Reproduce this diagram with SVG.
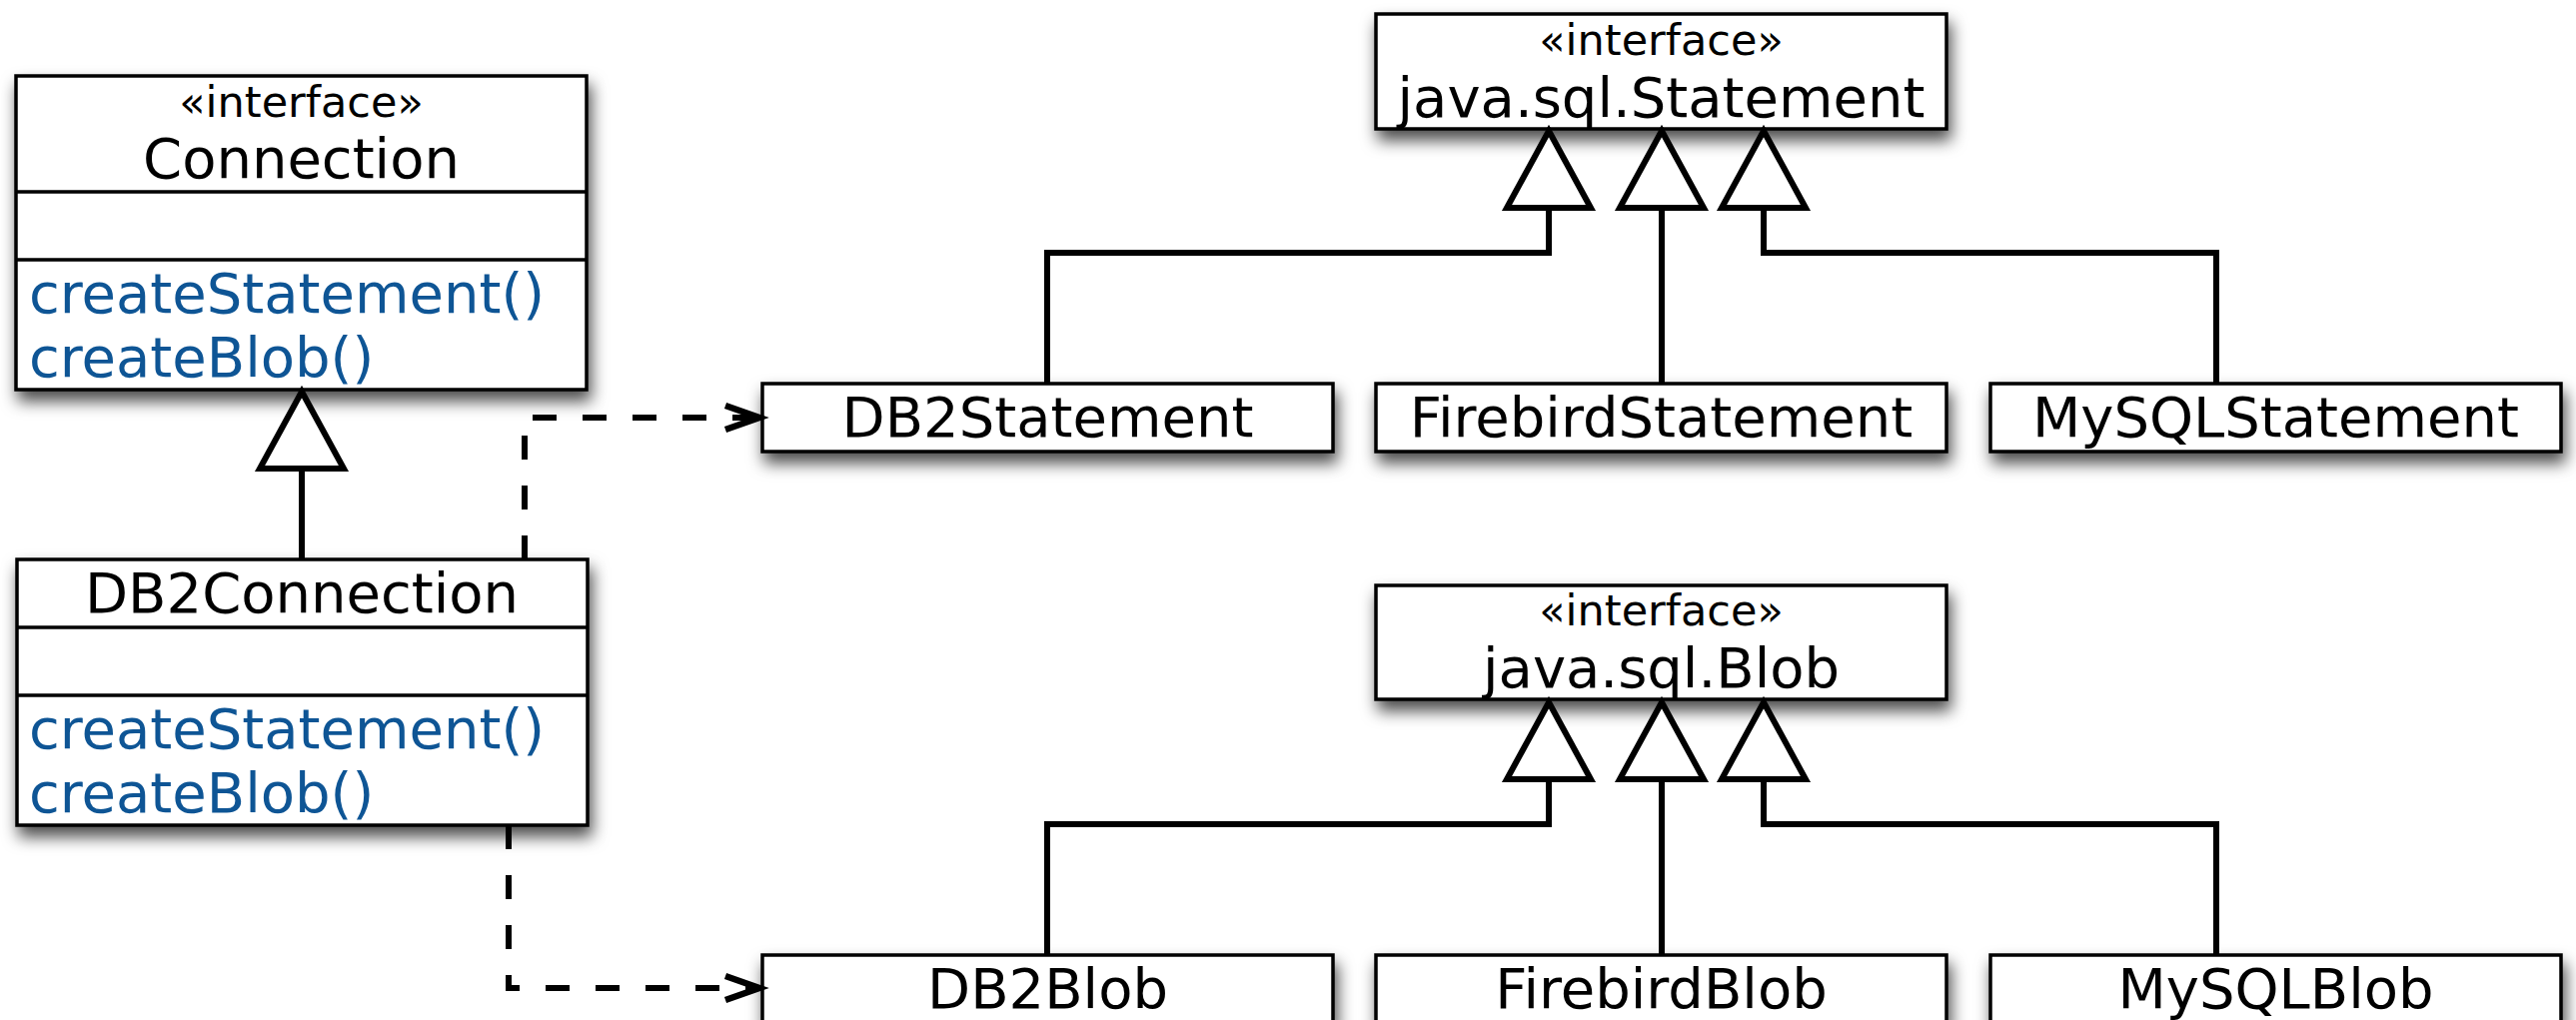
<svg xmlns="http://www.w3.org/2000/svg" width="2578" height="1021" viewBox="0 0 2578 1021">
<style>
.box{fill:#fff;stroke:#000;stroke-width:3.5;filter:url(#sh)}
.div{stroke:#000;stroke-width:3.5}
.t{font-family:"DejaVu Sans","Liberation Sans",sans-serif;fill:#000}
.name{font-size:56px;text-anchor:middle}
.st{font-size:43px;text-anchor:middle}
.m{font-size:56px;fill:#0e5595}
.gen{fill:none;stroke:#000;stroke-width:6;stroke-linejoin:miter}
.tri{fill:#fff;stroke:#000;stroke-width:6;stroke-linejoin:miter}
.dep{fill:none;stroke:#000;stroke-width:6;stroke-dasharray:24 26;marker-end:url(#open)}
</style>
<defs>
<filter id="sh" x="-10%" y="-60%" width="125%" height="260%">
<feDropShadow dx="3" dy="10" stdDeviation="8" flood-color="#000" flood-opacity="0.7"/>
</filter>
<marker id="open" markerUnits="userSpaceOnUse" markerWidth="60" markerHeight="40" viewBox="-40 -20 60 40" refX="0" refY="0" orient="auto" overflow="visible">
<path d="M-34 -12 L0 0 L-34 12" fill="none" stroke="#000" stroke-width="6.5" stroke-dasharray="none"/>
</marker>
</defs>
<rect width="2578" height="1021" fill="#fff"/>

<g id="Connection">
<rect class="box" x="16" y="76" width="571" height="314"/>
<line class="div" x1="16" y1="192" x2="587" y2="192"/>
<line class="div" x1="16" y1="260" x2="587" y2="260"/>
<text class="t st" x="301.5" y="117">«interface»</text>
<text class="t name" x="301.5" y="178">Connection</text>
<text class="t m" x="29" y="313">createStatement()</text>
<text class="t m" x="29" y="377">createBlob()</text>
</g>

<g id="DB2Connection">
<rect class="box" x="17" y="560" width="571" height="266"/>
<line class="div" x1="17" y1="628" x2="588" y2="628"/>
<line class="div" x1="17" y1="696" x2="588" y2="696"/>
<text class="t name" x="302" y="613">DB2Connection</text>
<text class="t m" x="29" y="749">createStatement()</text>
<text class="t m" x="29" y="813">createBlob()</text>
</g>

<g id="Statement">
<rect class="box" x="1377" y="14" width="571" height="115"/>
<text class="t st" x="1662.5" y="55">«interface»</text>
<text class="t name" x="1662.5" y="117">java.sql.Statement</text>
</g>
<g id="DB2Statement">
<rect class="box" x="763" y="384" width="571" height="68"/>
<text class="t name" x="1048.5" y="437">DB2Statement</text>
</g>
<g id="FirebirdStatement">
<rect class="box" x="1377" y="384" width="571" height="68"/>
<text class="t name" x="1662.5" y="437">FirebirdStatement</text>
</g>
<g id="MySQLStatement">
<rect class="box" x="1992" y="384" width="571" height="68"/>
<text class="t name" x="2277.5" y="437">MySQLStatement</text>
</g>

<g id="Blob">
<rect class="box" x="1377" y="586" width="571" height="114"/>
<text class="t st" x="1662.5" y="626">«interface»</text>
<text class="t name" x="1662.5" y="688">java.sql.Blob</text>
</g>
<g id="DB2Blob">
<rect class="box" x="763" y="956" width="571" height="68"/>
<text class="t name" x="1048.5" y="1009">DB2Blob</text>
</g>
<g id="FirebirdBlob">
<rect class="box" x="1377" y="956" width="571" height="68"/>
<text class="t name" x="1662.5" y="1009">FirebirdBlob</text>
</g>
<g id="MySQLBlob">
<rect class="box" x="1992" y="956" width="571" height="68"/>
<text class="t name" x="2277.5" y="1009">MySQLBlob</text>
</g>

<g id="connectors">
<path class="gen" d="M302 469 V560"/>
<polygon class="tri" points="302,392 344,469 260,469"/>

<path class="gen" d="M1550 208 V253 H1048 V384"/>
<path class="gen" d="M1663 208 V384"/>
<path class="gen" d="M1765 208 V253 H2218 V384"/>
<polygon class="tri" points="1550,131 1592,208 1508,208"/>
<polygon class="tri" points="1663,131 1705,208 1621,208"/>
<polygon class="tri" points="1765,131 1807,208 1723,208"/>

<path class="gen" d="M1550 780 V825 H1048 V956"/>
<path class="gen" d="M1663 780 V956"/>
<path class="gen" d="M1765 780 V825 H2218 V956"/>
<polygon class="tri" points="1550,703 1592,780 1508,780"/>
<polygon class="tri" points="1663,703 1705,780 1621,780"/>
<polygon class="tri" points="1765,703 1807,780 1723,780"/>

<path class="dep" d="M525 560 V418 H760"/>
<path class="dep" d="M509 826 V989 H760"/>
</g>
</svg>
